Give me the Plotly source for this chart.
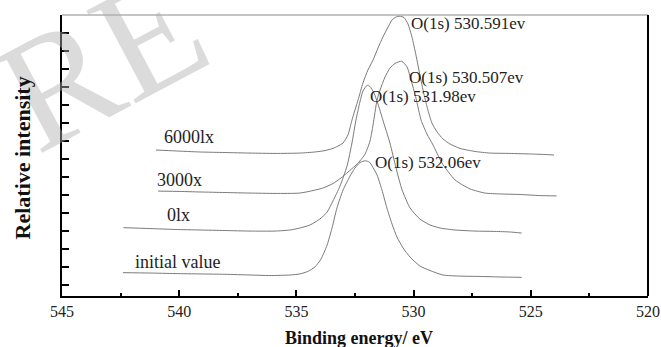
import plotly.graph_objects as go

# O 1s XPS spectra, binding energy (eV) vs. stacked relative intensity (a.u.)
e_initial = [542.40, 541.25, 540.18, 539.11, 538.05, 536.98, 536.13, 535.27, 534.85,
             534.51, 534.21, 533.95, 533.69, 533.48, 533.27, 533.01, 532.71, 532.50,
             532.29, 532.06, 531.88, 531.77, 531.56, 531.35, 531.14, 530.92, 530.71,
             530.45, 530.15, 529.73, 529.30, 528.75, 528.02, 527.17, 526.31, 525.39]
i_initial = [1.66, 1.64, 1.61, 1.59, 1.57, 1.53, 1.50, 1.53, 1.59,
             1.73, 1.98, 2.42, 3.20, 4.15, 5.27, 6.27, 7.05, 7.50,
             7.80, 7.90, 7.82, 7.61, 7.11, 6.27, 5.27, 4.37, 3.65,
             3.04, 2.53, 2.03, 1.78, 1.53, 1.47, 1.45, 1.42, 1.40]

e_0lx = [542.38, 541.25, 540.18, 539.11, 538.05, 536.98, 535.91, 535.27, 534.85,
         534.42, 534.00, 533.69, 533.44, 533.14, 532.84, 532.63, 532.46, 532.29,
         532.16, 531.98, 531.86, 531.69, 531.52, 531.31, 531.01, 530.75, 530.49,
         530.15, 529.73, 529.30, 528.87, 528.23, 527.38, 526.53, 525.89, 525.39]
i_0lx = [4.17, 4.12, 4.07, 4.04, 4.01, 3.98, 3.98, 4.04, 4.15,
         4.32, 4.65, 5.04, 5.66, 6.49, 7.61, 8.89, 10.17, 11.18,
         11.79, 12.11, 12.04, 11.68, 11.07, 10.17, 8.89, 7.50, 6.27,
         5.27, 4.65, 4.32, 4.15, 4.04, 3.98, 3.96, 3.93, 3.87]

e_3000x = [540.90, 539.97, 539.11, 538.05, 536.98, 535.91, 534.85, 534.29, 533.87,
           533.44, 533.10, 532.80, 532.50, 532.29, 532.07, 531.86, 531.73, 531.56,
           531.43, 531.22, 531.01, 530.79, 530.507, 530.28, 530.11, 529.90, 529.68,
           529.43, 529.17, 528.79, 528.23, 527.59, 526.95, 526.31, 525.46, 524.61,
           523.90]
i_3000x = [6.21, 6.19, 6.16, 6.13, 6.10, 6.08, 6.10, 6.24, 6.38,
           6.63, 6.94, 7.27, 7.61, 7.89, 8.28, 9.00, 9.90, 11.29,
           11.85, 12.57, 13.07, 13.33, 13.45, 13.13, 12.41, 11.40, 10.17,
           9.39, 8.78, 7.78, 6.83, 6.33, 6.10, 6.05, 6.02, 5.96,
           5.94]

e_6000lx = [540.99, 540.18, 539.11, 538.05, 536.98, 535.91, 534.85, 534.21, 533.78,
            533.44, 533.23, 533.01, 532.80, 532.63, 532.37, 532.16, 531.95, 531.73,
            531.52, 531.31, 531.09, 530.92, 530.75, 530.591, 530.41, 530.24, 530.07,
            529.90, 529.73, 529.56, 529.39, 529.22, 529.00, 528.75, 528.45, 528.02,
            527.38, 526.74, 525.89, 525.03, 524.39, 524.01]
i_6000lx = [8.50, 8.45, 8.39, 8.36, 8.33, 8.31, 8.33, 8.39, 8.47,
            8.59, 8.72, 8.89, 9.34, 10.17, 11.29, 12.24, 12.96, 13.52,
            14.19, 14.80, 15.36, 15.75, 15.92, 15.96, 15.89, 15.53, 14.80,
            13.80, 12.68, 11.62, 10.73, 10.01, 9.51, 9.12, 8.84, 8.59,
            8.42, 8.33, 8.31, 8.28, 8.25, 8.22]

series_names = ["initial value", "0lx", "3000x", "6000lx"]
series_e = [e_initial, e_0lx, e_3000x, e_6000lx]
series_i = [i_initial, i_0lx, i_3000x, i_6000lx]
peak_energies = ["532.06", "531.98", "530.507", "530.591"]

x_ticks = [545, 540, 535, 530, 525, 520]

SERIF = "Liberation Serif, Times New Roman, serif"
INK = "#1e1e1e"

fig = go.Figure()
for name, ev, iv in zip(series_names, series_e, series_i):
    fig.add_trace(go.Scatter(
        x=ev, y=iv, mode="lines", name=name,
        line=dict(color="#7a7a7a", width=1, shape="spline", smoothing=0.6),
        hoverinfo="skip", showlegend=False,
    ))

# series name labels, placed left of each baseline
name_pos = [(541.96, 2.25), (540.61, 4.88), (541.03, 6.83), (540.75, 9.23)]
# peak position labels beside each maximum
peak_pos = [(531.73, 7.78), (531.95, 11.51), (530.28, 12.52), (530.196, 15.53)]

annotations = []
# faint watermark lettering in the upper-left corner (first, so it sits beneath the other text)
annotations.append(dict(x=0.068, y=0.84, xref="paper", yref="paper", text="RE",
                        showarrow=False, textangle=-28, xanchor="center",
                        yanchor="middle",
                        font=dict(family=SERIF, size=160, color="rgba(175,175,175,0.45)")))
for name, (ax, ay) in zip(series_names, name_pos):
    annotations.append(dict(x=ax, y=ay, xref="x", yref="y", text=name,
                            showarrow=False, xanchor="left", yanchor="middle",
                            font=dict(family=SERIF, size=18, color=INK)))
for pe, (ax, ay) in zip(peak_energies, peak_pos):
    annotations.append(dict(x=ax, y=ay, xref="x", yref="y", text=f"O(1s) {pe}ev",
                            showarrow=False, xanchor="left", yanchor="middle",
                            font=dict(family=SERIF, size=17, color=INK)))

# axis titles
annotations.append(dict(x=0.507, y=-0.148, xref="paper", yref="paper",
                        text="<b>Binding energy/ eV</b>", showarrow=False,
                        xanchor="center", yanchor="middle",
                        font=dict(family=SERIF, size=18, color="#111")))
annotations.append(dict(x=-0.068, y=0.49, xref="paper", yref="paper",
                        text="<b>Relative intensity</b>", showarrow=False,
                        textangle=-90, xanchor="center", yanchor="middle",
                        font=dict(family=SERIF, size=22, color="#111")))

fig.update_layout(
    width=661, height=347,
    margin=dict(l=62, r=13, t=15, b=51),
    paper_bgcolor="white", plot_bgcolor="white",
    showlegend=False,
    annotations=annotations,
    shapes=[
        dict(type="line", xref="paper", yref="paper", x0=0, x1=1, y0=1, y1=1,
             line=dict(color="#8a8a8a", width=1)),
        dict(type="line", xref="paper", yref="paper", x0=1, x1=1, y0=0, y1=1,
             line=dict(color="black", width=2)),
    ],
)

fig.update_xaxes(
    range=[545, 520], tickvals=x_ticks, ticktext=[str(t) for t in x_ticks],
    automargin=False,
    ticks="inside", ticklen=6, tickwidth=1.5, tickcolor="black",
    showline=True, linewidth=2, linecolor="black",
    showgrid=False, zeroline=False,
    tickfont=dict(family=SERIF, size=16, color="#222"),
    minor=dict(ticks="inside", ticklen=3, tickwidth=1.5, tickcolor="black",
               dtick=2.5, tick0=520, showgrid=False),
)
fig.update_yaxes(
    range=[0.359, 16.03], tick0=1, dtick=1,
    automargin=False,
    ticks="inside", ticklen=7, tickwidth=1.5, tickcolor="black",
    showticklabels=False,
    showline=True, linewidth=2, linecolor="black",
    showgrid=False, zeroline=False,
)

fig.write_html("out.html")
